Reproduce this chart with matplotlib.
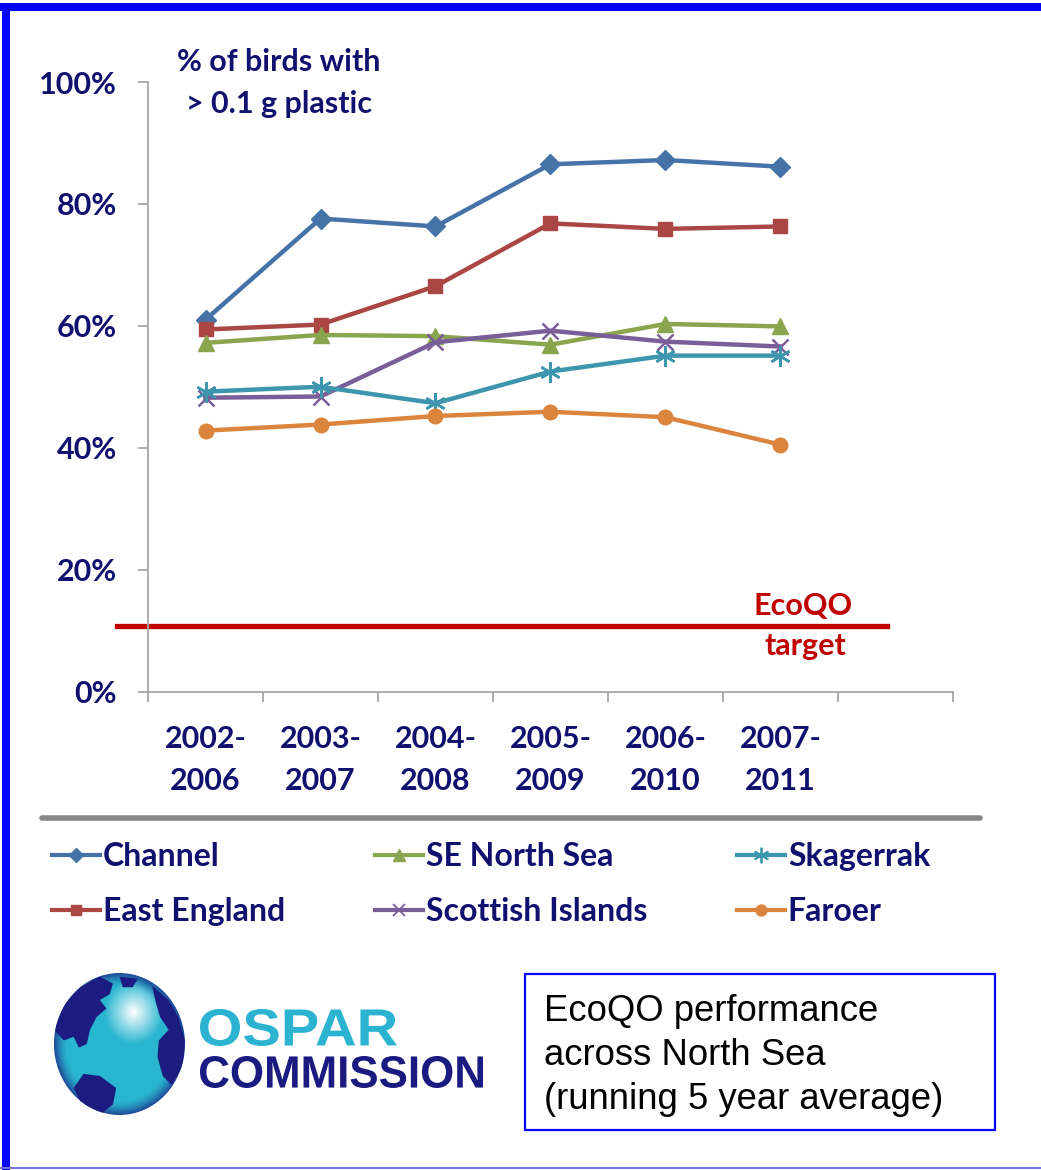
import numpy as np
import matplotlib
matplotlib.use('Agg')
import matplotlib.pyplot as plt
from matplotlib.lines import Line2D
from matplotlib.patches import Rectangle, Ellipse, Polygon, PathPatch
from matplotlib.textpath import TextPath
from matplotlib.font_manager import FontProperties
from matplotlib.transforms import Affine2D

# Data (percent of birds with > 0.1 g plastic, running 5 year average)
periods = ['2002-\n2006', '2003-\n2007', '2004-\n2008', '2005-\n2009', '2006-\n2010', '2007-\n2011']
channel = [61.0, 77.6, 76.3, 86.5, 87.2, 86.1]
east_england = [59.4, 60.2, 66.5, 76.8, 75.9, 76.3]
se_north_sea = [57.2, 58.5, 58.3, 56.9, 60.3, 59.9]
scottish_islands = [48.2, 48.4, 57.3, 59.2, 57.4, 56.6]
skagerrak = [49.2, 50.0, 47.3, 52.5, 55.1, 55.1]
faroer = [42.8, 43.8, 45.2, 45.9, 45.0, 40.5]
ecoqo_target = 10.7
yticks = [0, 20, 40, 60, 80, 100]
n_slots = 7  # category axis has one empty slot on the right

navy = '#10106e'
grid_grey = '#a6a6a6'
plt.rcParams['font.family'] = ['Lato', 'DejaVu Sans']
fsize = 22

W, H = 1041, 1170
fig = plt.figure(figsize=(W / 100, H / 100), dpi=100)

# overlay axes in pixel coords for frame, separator, logo and note box
ov = fig.add_axes([0, 0, 1, 1], zorder=0)
ov.set_xlim(0, W)
ov.set_ylim(H, 0)
ov.axis('off')

# chart axes
ax = fig.add_axes([148 / W, 1 - 691.5 / H, 805 / W, (691.5 - 82) / H], zorder=1)
ax.patch.set_alpha(0)

series = [
    ('Channel', channel, '#4572A7', 'D', 10),
    ('East England', east_england, '#AA4643', 's', 10.5),
    ('SE North Sea', se_north_sea, '#89A54E', '^', 11.5),
    ('Scottish Islands', scottish_islands, '#7A5E9A', 'x', 12),
    ('Skagerrak', skagerrak, '#3D96AE', (6, 2, 0), 15),
    ('Faroer', faroer, '#DB843D', 'o', 10.5),
]
x = np.arange(len(periods))
handles = {}
for name, vals, col, mk, ms in series:
    thin = mk in ('x', (6, 2, 0))
    ax.plot(x, vals, color=col, lw=3.2, marker=mk, ms=ms, mew=1.8 if thin else 1,
            mec=col, mfc=col, zorder=3)
    handles[name] = Line2D([], [], color=col, lw=3, marker=mk, ms=ms * 0.75,
                           mew=1.3 if thin else 1, mec=col, mfc=col)

# EcoQO target line, running past the y axis
ax.axhline(ecoqo_target, xmin=-0.0385, xmax=0.918, color='#C00000', lw=3.8, clip_on=False, zorder=2)
ax.text(5.2, ecoqo_target + 3.4, 'EcoQO', color='#C00000', fontsize=fsize, fontweight='bold',
        ha='center', va='center')
ax.text(5.22, ecoqo_target - 3.2, 'target', color='#C00000', fontsize=fsize, fontweight='bold',
        ha='center', va='center')

ax.set_xlim(-0.5, n_slots - 0.5)
ax.set_ylim(0, 100)
ax.set_yticks(yticks)
ax.set_yticklabels([f'{v}%' for v in yticks])
ax.set_xticks(np.arange(-0.5, n_slots, 1))
ax.set_xticklabels([])
ax.set_xticks(x, minor=True)
ax.set_xticklabels(periods, minor=True)
for sp in ['top', 'right']:
    ax.spines[sp].set_visible(False)
for sp in ['left', 'bottom']:
    ax.spines[sp].set_color(grid_grey)
    ax.spines[sp].set_linewidth(1.3)
ax.tick_params(axis='y', which='major', length=7.5, width=1.3, color=grid_grey,
               labelsize=fsize, labelcolor=navy, pad=15)
ax.tick_params(axis='x', which='major', length=7.5, width=1.3, color=grid_grey)
ax.tick_params(axis='x', which='minor', length=0, labelsize=fsize, labelcolor=navy, pad=24)
for lbl in ax.get_yticklabels() + ax.get_xticklabels(minor=True):
    lbl.set_fontweight('bold')
for lbl in ax.get_xticklabels(minor=True):
    lbl.set_linespacing(1.6)

fig.text(279 / W, 1 - 83 / H, '% of birds with\n> 0.1 g plastic', color=navy, fontsize=fsize,
         fontweight='bold', ha='center', va='center', linespacing=1.65)

# frame
ov.add_patch(Rectangle((0, 3), W, 8, fc='#0000ff', ec='none'))
ov.add_patch(Rectangle((2, 3), 8, H - 3, fc='#0000ff', ec='none'))
ov.plot([0, W], [1168, 1168], color='#7575e0', lw=1.5)

# separator above legend
ov.plot([42, 980], [818, 818], color='#878787', lw=4, solid_capstyle='round')

order = ['Channel', 'East England', 'SE North Sea', 'Scottish Islands', 'Skagerrak', 'Faroer']
leg = fig.legend([handles[k] for k in order], order, loc='upper left', ncol=3,
                 bbox_to_anchor=(52 / W, 1 - 842 / H), frameon=False, borderpad=0,
                 borderaxespad=0, handlelength=1.5, handletextpad=0.1, columnspacing=2.8,
                 labelspacing=0.82, prop={'family': 'Lato', 'weight': 'bold', 'size': 23})
for t in leg.get_texts():
    t.set_color(navy)

# OSPAR logo: shaded globe
gx0, gx1, gy0, gy1 = 54, 185, 973, 1115
uu, vv = np.meshgrid(np.linspace(-1, 1, 300), np.linspace(-1, 1, 300))
rr = np.sqrt(uu ** 2 + vv ** 2)
hl = np.sqrt((uu - 0.22) ** 2 + (vv + 0.45) ** 2)
cyan = np.array([41, 182, 209]) / 255
dark = np.array([26, 26, 126]) / 255
w_hl = np.clip(1 - hl / 0.45, 0, 1) ** 1.0
w_rim = np.clip((rr - 0.8) / 0.2, 0, 1) ** 1.5
img = cyan[None, None, :] * (1 - w_hl[..., None]) + w_hl[..., None]
img = img * (1 - 0.7 * w_rim[..., None]) + dark[None, None, :] * 0.7 * w_rim[..., None]
im = ov.imshow(img, extent=(gx0, gx1, gy1, gy0), origin='upper', zorder=1, interpolation='bilinear')
globe = Ellipse(((gx0 + gx1) / 2, (gy0 + gy1) / 2), gx1 - gx0, gy1 - gy0, fc='none', ec='none')
ov.add_patch(globe)
im.set_clip_path(globe)
ov.set_xlim(0, W)
ov.set_ylim(H, 0)

cx, cy, hw, hh = (gx0 + gx1) / 2, (gy0 + gy1) / 2, (gx1 - gx0) / 2, (gy1 - gy0) / 2
lands = [
    [(-1.0, -0.2), (-0.85, -0.55), (-0.6, -0.8), (-0.3, -0.95), (-0.1, -0.85), (-0.15, -0.7),
     (-0.3, -0.62), (-0.2, -0.5), (-0.35, -0.38), (-0.45, -0.2), (-0.5, 0.0), (-0.62, 0.05),
     (-0.7, -0.1), (-0.85, -0.05)],
    [(0.0, -0.95), (0.28, -0.92), (0.2, -0.8), (0.05, -0.8)],
    [(0.5, -0.82), (0.75, -0.62), (0.9, -0.38), (1.0, -0.05), (0.97, 0.3), (0.8, 0.58),
     (0.66, 0.45), (0.58, 0.18), (0.6, -0.05), (0.75, -0.2), (0.62, -0.38), (0.55, -0.6)],
    [(-0.55, 0.42), (-0.3, 0.45), (-0.05, 0.62), (-0.1, 0.85), (-0.3, 1.0), (-0.55, 0.9),
     (-0.7, 0.62)],
]
for poly in lands:
    pts = [(cx + u * hw, cy + v * hh) for u, v in poly]
    p = Polygon(pts, closed=True, fc='#1b1b80', ec='none', zorder=2)
    ov.add_patch(p)
    p.set_clip_path(globe)


def fit_text(s, x0, x1, y_top, y_base, color, fp):
    tp = TextPath((0, 0), s, size=100, prop=fp)
    bb = tp.get_extents()
    tr = Affine2D().translate(-bb.x0, -bb.y0).scale((x1 - x0) / bb.width, -(y_base - y_top) / bb.height)
    tr = tr.translate(x0, y_base)
    ov.add_patch(PathPatch(tr.transform_path(tp), fc=color, ec='none', zorder=2))


logo_fp = FontProperties(family='Liberation Sans', weight='bold')
fit_text('OSPAR', 200, 397, 1009, 1046, '#2bb3d1', logo_fp)
fit_text('COMMISSION', 200, 483, 1056, 1088, '#1a1a80', logo_fp)

# note box
ov.add_patch(Rectangle((525, 974), 470, 156, fc='white', ec='#0000ff', lw=1.6, zorder=2))
note_lines = ['EcoQO performance', 'across North Sea', '(running 5 year average)']
for i, line in enumerate(note_lines):
    ov.text(544, 1021 + 44 * i, line, family='Liberation Sans', fontsize=26.3, color='black',
            va='baseline', ha='left', zorder=3)

fig.savefig('out.png', dpi=100)
